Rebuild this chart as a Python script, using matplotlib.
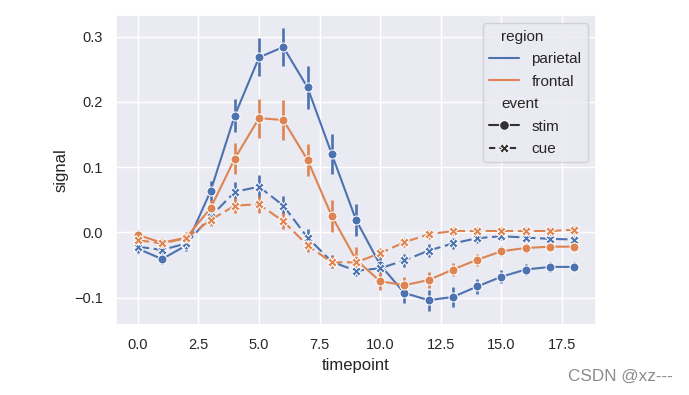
import matplotlib
matplotlib.use("Agg")
import matplotlib.pyplot as plt
import matplotlib as mpl
from matplotlib.lines import Line2D
import numpy as np
import seaborn as sns

timepoints = list(range(19))

parietal_stim = [-0.025, -0.041, -0.020, 0.063, 0.179, 0.268, 0.284, 0.222, 0.120, 0.019,
                 -0.050, -0.093, -0.104, -0.099, -0.083, -0.068, -0.057, -0.053, -0.053]
parietal_cue = [-0.022, -0.027, -0.017, 0.024, 0.062, 0.070, 0.041, -0.008, -0.045, -0.059,
                -0.055, -0.043, -0.028, -0.017, -0.009, -0.006, -0.008, -0.010, -0.011]
frontal_stim = [-0.004, -0.016, -0.008, 0.037, 0.113, 0.175, 0.172, 0.111, 0.025, -0.042,
                -0.075, -0.081, -0.073, -0.057, -0.042, -0.029, -0.024, -0.022, -0.022]
frontal_cue = [-0.012, -0.017, -0.009, 0.019, 0.041, 0.043, 0.017, -0.020, -0.046, -0.046,
               -0.032, -0.015, -0.003, 0.002, 0.002, 0.002, 0.002, 0.002, 0.004]

parietal_stim_err = [0.008, 0.008, 0.008, 0.015, 0.025, 0.029, 0.029, 0.033, 0.030, 0.025,
                     0.018, 0.015, 0.016, 0.015, 0.012, 0.010, 0.008, 0.008, 0.007]
parietal_cue_err = [0.007, 0.007, 0.007, 0.012, 0.015, 0.018, 0.015, 0.013, 0.010, 0.008,
                    0.008, 0.010, 0.010, 0.008, 0.007, 0.006, 0.006, 0.006, 0.006]
frontal_stim_err = [0.008, 0.008, 0.008, 0.012, 0.024, 0.030, 0.030, 0.025, 0.024, 0.020,
                    0.014, 0.012, 0.012, 0.010, 0.009, 0.008, 0.007, 0.006, 0.006]
frontal_cue_err = [0.007, 0.007, 0.007, 0.010, 0.012, 0.013, 0.012, 0.010, 0.009, 0.008,
                   0.008, 0.007, 0.007, 0.006, 0.006, 0.006, 0.006, 0.006, 0.006]

regions = ["parietal", "frontal"]
events = ["stim", "cue"]

sns.set_theme(style="darkgrid")
plt.rcParams["font.family"] = ["Liberation Sans", "DejaVu Sans"]

colors = {"parietal": "#4C72B0", "frontal": "#DD8452"}
markers = {"stim": "o", "cue": "X"}

series = [
    ("parietal", "stim", parietal_stim, parietal_stim_err),
    ("parietal", "cue", parietal_cue, parietal_cue_err),
    ("frontal", "stim", frontal_stim, frontal_stim_err),
    ("frontal", "cue", frontal_cue, frontal_cue_err),
]

fig = plt.figure(figsize=(6.89, 3.95), dpi=100)
ax = fig.add_axes([116 / 689, 70 / 395, 480 / 689, 310 / 395])

for reg, ev, vals, errs in series:
    c = colors[reg]
    ax.errorbar(timepoints, vals, yerr=errs, linestyle="", color=c, elinewidth=1.9, zorder=2)
    ls = "-" if ev == "stim" else (0, (5.5, 2.2))
    ax.plot(timepoints, vals, color=c, linestyle=ls, linewidth=1.5,
            marker=markers[ev], markersize=6.5, markeredgecolor="white",
            markeredgewidth=0.75, zorder=3)

ax.set_xlim(-0.9, 18.9)
ax.set_ylim(-0.142, 0.333)
ax.set_xticks([0, 2.5, 5, 7.5, 10, 12.5, 15, 17.5])
ax.set_xticklabels(["0.0", "2.5", "5.0", "7.5", "10.0", "12.5", "15.0", "17.5"])
ax.set_yticks([-0.1, 0.0, 0.1, 0.2, 0.3])
ax.set_yticklabels(["\u22120.1", "0.0", "0.1", "0.2", "0.3"])
ax.tick_params(labelsize=10.5, colors=".15")
ax.set_xlabel("timepoint", fontsize=12, color=".15")
ax.set_ylabel("signal", fontsize=12, color=".15")

handles = [
    Line2D([], [], visible=False),
    Line2D([], [], color=colors["parietal"], linewidth=1.5),
    Line2D([], [], color=colors["frontal"], linewidth=1.5),
    Line2D([], [], visible=False),
    Line2D([], [], color=".2", linewidth=1.5, marker="o", markersize=7,
           markeredgecolor="white", markeredgewidth=0.75),
    Line2D([], [], color=".2", linewidth=1.5, marker="X", markersize=7,
           linestyle=(0, (3, 2)), markeredgecolor="white", markeredgewidth=0.75),
]
labels = ["region", "parietal", "frontal", "event", "stim", "cue"]
leg = ax.legend(handles, labels, loc="upper right", fontsize=11, frameon=True,
                labelspacing=0.56, handlelength=2.0, borderaxespad=0.55)
for hpack in leg.findobj(mpl.offsetbox.HPacker):
    children = hpack.get_children()
    if len(children) != 2:
        continue
    draw_area, text_area = children
    if not isinstance(draw_area, mpl.offsetbox.DrawingArea):
        continue
    arts = draw_area.get_children()
    if arts and not all(a.get_visible() for a in arts):
        draw_area.set_width(0)

fig.text(0.977, 0.028, "CSDN @xz---", ha="right", va="bottom", fontsize=12.3, color="#8c8c8c")

fig.savefig("out.png", dpi=100)
